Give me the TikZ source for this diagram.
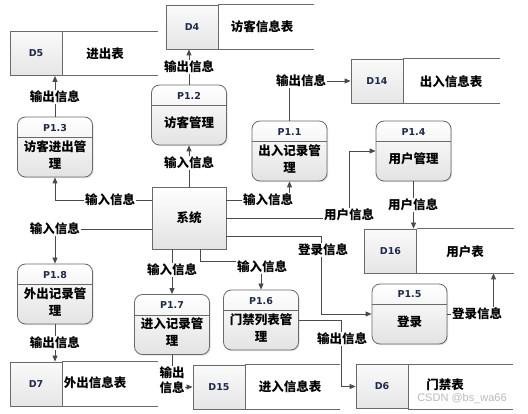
\documentclass[tikz,border=0pt]{standalone}
\usepackage{fontspec}
\setmainfont{Carlito}
\newfontfamily\cjk{Noto Sans CJK SC}
\newfontfamily\wmfont{Liberation Sans}
\newfontfamily\idfam{DejaVu Sans}
\usetikzlibrary{arrows.meta,shadows,calc}
\definecolor{edge}{HTML}{4A4A4A}
\definecolor{bord}{HTML}{6A6A6A}
\definecolor{idc}{HTML}{1B2A4E}
\newcommand\lblfont{\cjk\bfseries\fontsize{12.5}{15}\selectfont}
\newcommand\bodyfont{\cjk\bfseries\fontsize{12.5}{17}\selectfont}
\newcommand\idfont{\idfam\bfseries\fontsize{9.5}{11}\selectfont}
\tikzset{
  procbox/.style={draw=bord, line width=0.8pt, rounded corners=8pt, top color=white, bottom color=gray!22,
    minimum width=75pt, minimum height=60pt, inner sep=0pt,
    drop shadow={opacity=0.25, shadow xshift=1.2pt, shadow yshift=-1.2pt}},
  sysbox/.style={draw=bord, line width=0.8pt, top color=white, bottom color=gray!22,
    minimum width=74pt, minimum height=62pt, inner sep=0pt, font=\bodyfont,
    drop shadow={opacity=0.25, shadow xshift=1.2pt, shadow yshift=-1.2pt}},
  hdr/.style={draw=bord, line width=0.8pt},
  pid/.style={font=\idfont, text=idc, inner sep=0pt},
  ptxt/.style={font=\bodyfont, align=center, inner sep=0pt},
  storebox/.style={draw=bord, line width=0.8pt, top color=gray!4, bottom color=gray!20,
    minimum width=52pt, minimum height=44pt, inner sep=0pt, font=\idfont, text=idc},
  storeline/.style={draw=bord, line width=0.8pt},
  stxt/.style={font=\bodyfont, inner sep=0pt},
  arr/.style={draw=edge, line width=0.8pt, -{Triangle[length=6pt,width=5pt]}},
  ln/.style={draw=edge, line width=0.8pt},
  lbl/.style={fill=white, inner sep=0.6pt, font=\lblfont, align=center},
}
\newcommand\mkproc[4]{%
  \node[procbox] (#1) at (#2) {};
  \draw[hdr] ([yshift=-21pt]#1.north west) -- ([yshift=-21pt]#1.north east);
  \node[pid] (#1id) at ([yshift=-11pt]#1.north) {#3};
  \node[ptxt] (#1tx) at ([yshift=-38pt]#1.north) {#4};}
\newcommand\mkstore[6]{%
  \node[storebox] (#1) at (#2) {#3};
  \draw[storeline] (#1.north east) -- ++(#4,0);
  \draw[storeline] (#1.south east) -- ++(#4,0);
  \node[stxt] (#1tx) at (#5) {#6};}
\begin{document}
\begin{tikzpicture}[x=1pt,y=-1pt]
\useasboundingbox (0,0) rectangle (528,414);

% data stores
\mkstore{d5}{36,53.5}{D5}{96}{105,54}{进出表}
\mkstore{d4}{192,27}{D4}{96}{262,27}{访客信息表}
\mkstore{d14}{377,81}{D14}{97}{451,82}{出入信息表}
\mkstore{d16}{390.5,251}{D16}{97}{465,252}{用户表}
\mkstore{d7}{36,384}{D7}{96}{95,383}{外出信息表}
\mkstore{d15}{219,387}{D15}{95}{290,387}{进入信息表}
\mkstore{d6}{382,386.5}{D6}{105}{445,385}{门禁表}

% system
\node[sysbox] (sys) at (189,218) {系统};

% processes
\mkproc{p12}{189,115}{P1.2}{访客管理}
\mkproc{p13}{55,147}{P1.3}{访客进出管\\理}
\mkproc{p11}{289.5,151}{P1.1}{出入记录管\\理}
\mkproc{p14}{413.5,151}{P1.4}{用户管理}
\mkproc{p18}{55,294}{P1.8}{外出记录管\\理}
\mkproc{p17}{172,324.5}{P1.7}{进入记录管\\理}
\mkproc{p16}{261,320}{P1.6}{门禁列表管\\理}
\mkproc{p15}{409.5,314}{P1.5}{登录}

% exit points of the system box
\coordinate (s13) at ([xshift=-17pt]sys.south);
\coordinate (s14) at ([xshift=11pt]sys.south);

% connectors
\draw[arr] (sys.north) -- (p12.south);
\draw[arr] (p12.north) -- (p12.north |- d4.south);
\draw[arr] ([yshift=18pt]sys.west) -| (p13.south);
\draw[arr] (p13.north) -- (p13.north |- d5.south);
\draw[arr] ([yshift=18pt]sys.east) -| (p11.south);
\draw[arr] (p11.north) |- (d14.west);
\draw[arr] (sys.east) -| ([xshift=-26pt]p14.west) -- (p14.west);
\draw[arr] (p14.south) -- (p14.south |- d16.north);
\draw[arr] ([yshift=-18pt]sys.east) -| ([xshift=-50pt]p15.west) -- (p15.west);
\draw[arr] (p15.east) -| ([xshift=103pt]d16.south);
\draw[arr] ([yshift=-11pt]sys.west) -| (p18.north);
\draw[arr] (p18.south) -- (p18.south |- d7.north);
\draw[arr] (s13) -- (s13 |- p17.north);
\draw[arr] (s14) |- ([yshift=28pt]p16.north) -- (p16.north);
\draw[arr] (p17.south) |- (d15.west);
\draw[arr] (p16.east) -| ([xshift=-14pt]d6.west) -- (d6.west);

% labels
\node[lbl] (l1) at (189,163) {输入信息};
\node[lbl] (l2) at (189,67) {输出信息};
\node[lbl] (l3) at (110,200) {输入信息};
\node[lbl] (l4) at (55,97) {输出信息};
\node[lbl] (l5) at (268,200) {输入信息};
\node[lbl] (l6) at (301,81) {输出信息};
\node[lbl] (l7) at (349,215) {用户信息};
\node[lbl] (l8) at (413,205) {用户信息};
\node[lbl] (l9) at (323,250) {登录信息};
\node[lbl] (l10) at (477,314) {登录信息};
\node[lbl] (l11) at (55,229) {输入信息};
\node[lbl] (l12) at (55,343) {输出信息};
\node[lbl] (l13) at (172,270) {输入信息};
\node[lbl] (l14) at (262,267) {输入信息};
\node[lbl] (l15) at (172,380) {输出\\信息};
\node[lbl] (l16) at (342,339) {输出信息};

% watermark
\node[font=\wmfont\fontsize{11}{12}\selectfont, text=gray!55, inner sep=0pt] (wm) at (462,399) {CSDN @bs\_wa66};
\end{tikzpicture}
\end{document}
